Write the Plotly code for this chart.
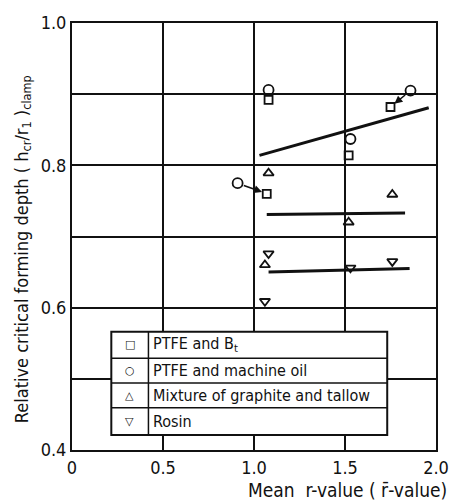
import plotly.graph_objects as go

# ---- data ----
ptfe_bt_x = [1.08, 1.75, 1.52, 1.07]
ptfe_bt_y = [0.892, 0.882, 0.814, 0.760]

ptfe_oil_x = [1.08, 1.86, 1.53, 0.91]
ptfe_oil_y = [0.906, 0.905, 0.837, 0.775]

graphite_x = [1.08, 1.76, 1.52, 1.06]
graphite_y = [0.789, 0.759, 0.720, 0.660]

rosin_x = [1.08, 1.53, 1.76, 1.06]
rosin_y = [0.676, 0.656, 0.665, 0.609]

trend1_x = [1.03, 1.96]
trend1_y = [0.814, 0.881]
trend2_x = [1.07, 1.83]
trend2_y = [0.731, 0.733]
trend3_x = [1.08, 1.855]
trend3_y = [0.650, 0.655]

# arrows: (from circle) -> (to square)
arrow_from = [(0.91, 0.775), (1.86, 0.905)]
arrow_to = [(1.07, 0.760), (1.75, 0.882)]

legend_labels = ["PTFE and B<sub>t</sub>", "PTFE and machine oil",
                 "Mixture of graphite and tallow", "Rosin"]
legend_glyphs = ["\u25a1", "\u25cb", "\u25b3", "\u25bd"]

x_tickvals = [0, 0.5, 1.0, 1.5, 2.0]
x_ticktext = ["0", "0.5", "1.0", "1.5", "2.0"]
y_tickvals = [0.4, 0.6, 0.8, 1.0]
y_ticktext = ["0.4", "0.6", "0.8", "1.0"]

FONT = "DejaVu Sans Condensed, Liberation Sans Narrow, Arial Narrow, DejaVu Sans, sans-serif"
INK = "#111111"

fig = go.Figure()

for tx, ty in [(trend1_x, trend1_y), (trend2_x, trend2_y), (trend3_x, trend3_y)]:
    fig.add_trace(go.Scatter(x=tx, y=ty, mode="lines",
                             line=dict(color=INK, width=3), showlegend=False))

series = [
    (ptfe_bt_x, ptfe_bt_y, "square-open", 8),
    (ptfe_oil_x, ptfe_oil_y, "circle-open", 10),
    (graphite_x, graphite_y, "triangle-up-open", 9),
    (rosin_x, rosin_y, "triangle-down-open", 9),
]
for sx, sy, sym, size in series:
    fig.add_trace(go.Scatter(x=sx, y=sy, mode="markers",
                             marker=dict(symbol=sym, size=size, color=INK,
                                         line=dict(width=1.8, color=INK)),
                             showlegend=False))

for (fx, fy), (tx, ty) in zip(arrow_from, arrow_to):
    fig.add_annotation(x=tx, y=ty, ax=fx, ay=fy, xref="x", yref="y",
                       axref="x", ayref="y", showarrow=True, arrowhead=2,
                       arrowsize=1, arrowwidth=1.6, arrowcolor=INK,
                       standoff=5, startstandoff=5, text="")

# ---- table-style legend ----
box_x0, box_x1, col_x = 0.108, 0.866, 0.210
row_edges = [0.277, 0.215, 0.157, 0.099, 0.035]
fig.add_shape(type="rect", xref="paper", yref="paper", x0=box_x0, x1=box_x1,
              y0=row_edges[-1], y1=row_edges[0], fillcolor="white",
              line=dict(color=INK, width=2), layer="above")
for ye in row_edges[1:-1]:
    fig.add_shape(type="line", xref="paper", yref="paper", x0=box_x0, x1=box_x1,
                  y0=ye, y1=ye, line=dict(color=INK, width=1.5), layer="above")
fig.add_shape(type="line", xref="paper", yref="paper", x0=col_x, x1=col_x,
              y0=row_edges[-1], y1=row_edges[0], line=dict(color=INK, width=1.5),
              layer="above")
row_centers = [(row_edges[i] + row_edges[i + 1]) / 2 for i in range(4)]
for g, lab, yc in zip(legend_glyphs, legend_labels, row_centers):
    fig.add_annotation(x=(box_x0 + col_x) / 2, y=yc, xref="paper", yref="paper",
                       text=g, showarrow=False, xanchor="center", yanchor="middle",
                       font=dict(family="DejaVu Sans", size=11, color=INK))
    fig.add_annotation(x=col_x + 0.008, y=yc, xref="paper", yref="paper",
                       text=lab, showarrow=False, xanchor="left", yanchor="middle",
                       font=dict(family=FONT, size=16, color=INK))

# ---- axis titles ----
fig.add_annotation(x=1.035, y=-0.093, xref="paper", yref="paper",
                   text="Mean  r-value ( r\u0304-value)", showarrow=False,
                   xanchor="right", yanchor="middle",
                   font=dict(family=FONT, size=19, color=INK))
fig.add_annotation(x=-0.135, y=0.47, xref="paper", yref="paper",
                   text="Relative critical forming depth ( h<sub>cr</sub>/r<sub>1</sub> )<sub>clamp</sub>",
                   showarrow=False, textangle=-90, xanchor="center", yanchor="middle",
                   font=dict(family=FONT, size=18, color=INK))

fig.update_layout(
    width=461, height=500,
    margin=dict(l=72, r=18, t=17, b=50),
    paper_bgcolor="white", plot_bgcolor="white",
    font=dict(family=FONT, color=INK),
    showlegend=False,
    xaxis=dict(range=[0, 2.0], tickvals=x_tickvals, ticktext=x_ticktext,
               showgrid=True, gridcolor=INK, gridwidth=1.5,
               showline=True, linecolor=INK, linewidth=2, mirror=True,
               zeroline=False, ticks="", tickfont=dict(size=18, family=FONT)),
    yaxis=dict(range=[0.4, 1.0], tickvals=y_tickvals, ticktext=y_ticktext,
               showgrid=True, gridcolor=INK, gridwidth=1.5,
               minor=dict(dtick=0.1, tick0=0.4, showgrid=True, gridcolor=INK, gridwidth=1.5),
               showline=True, linecolor=INK, linewidth=2, mirror=True,
               zeroline=False, ticks="", tickfont=dict(size=18, family=FONT)),
)

fig.write_html("out.html")
